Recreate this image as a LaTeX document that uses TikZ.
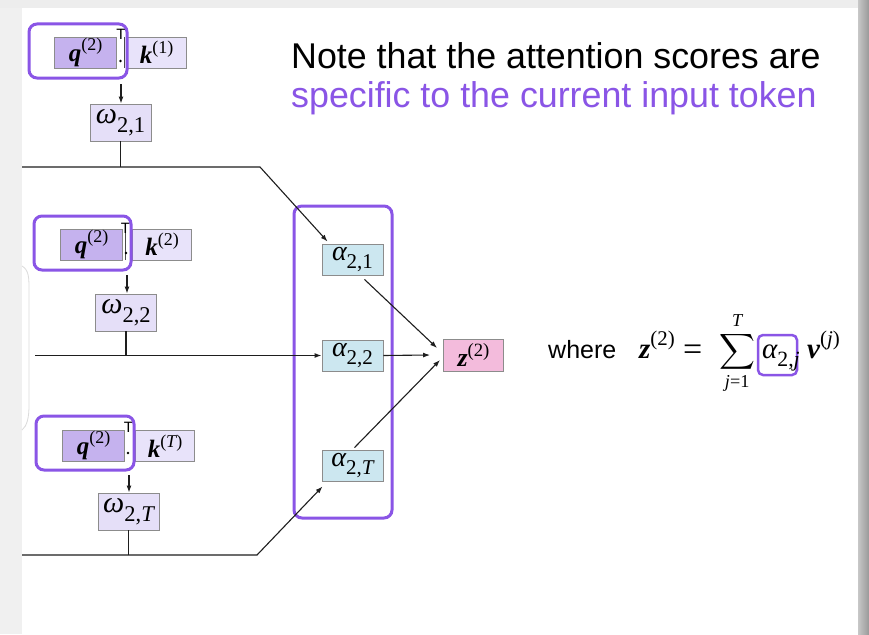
\RequirePackage{fix-cm}
\documentclass[tikz,border=0pt]{standalone}
\usepackage{amsmath}
\usepackage[no-math]{fontspec}
\setmainfont{Liberation Sans}
\newfontfamily\tms{Liberation Serif}
\usetikzlibrary{arrows.meta}
\definecolor{hl}{HTML}{8A55E6}
\definecolor{qfill}{HTML}{C5B2EE}
\definecolor{kfill}{HTML}{E8E3FA}
\definecolor{wfill}{HTML}{E5DFF8}
\definecolor{afill}{HTML}{CCE7F0}
\definecolor{zfill}{HTML}{F3BBDC}
\definecolor{bord}{HTML}{8C8C8C}
\definecolor{ln}{HTML}{1E1E1E}
\newcommand{\bvec}[1]{{\tms\bfseries\itshape #1}}
\newcommand{\ivar}[1]{{\tms\itshape #1}}
\newcommand{\supx}[1]{\raisebox{0.42em}{\scalebox{0.72}{\tms #1}}}
\newcommand{\subx}[1]{\raisebox{-0.28em}{\scalebox{0.75}{\tms #1}}}
\tikzset{
  box/.style={draw=bord, line width=0.9pt, inner sep=0pt, anchor=center},
  qbox/.style={box, fill=qfill, minimum width=62pt, minimum height=31pt, font=\fontsize{25}{27}\selectfont},
  kbox/.style={box, fill=kfill, minimum width=59pt, minimum height=31pt, font=\fontsize{25}{27}\selectfont},
  wbox/.style={box, fill=wfill, minimum width=61pt, minimum height=37pt, font=\fontsize{30}{32}\selectfont},
  abox/.style={box, fill=afill, minimum width=61pt, minimum height=31pt, font=\fontsize{28}{30}\selectfont},
  zbox/.style={box, fill=zfill, minimum width=60pt, minimum height=32pt, font=\fontsize{26}{28}\selectfont},
  hlbox/.style={draw=hl, line width=3pt, rounded corners=8pt},
  conn/.style={draw=ln, line width=1.1pt},
  arr/.style={conn, -{Latex[length=7pt,width=5pt]}},
  tsym/.style={inner sep=0pt, font=\fontsize{15}{15}\selectfont},
  formula/.style={inner sep=0pt, anchor=base west, font=\fontsize{29}{31}\selectfont},
}
\begin{document}
\begin{tikzpicture}[x=1pt,y=-1pt]
\useasboundingbox (0,0) rectangle (869,634);
% background
\fill[white] (0,0) rectangle (869,634);
\fill[black!6] (0,0) rectangle (22,634);
\fill[black!7] (0,0) rectangle (869,8);
\shade[left color=black!22, right color=black!40] (858,0) rectangle (869,634);
\draw[black!14, line width=0.8pt] (22,266) .. controls (29,270) and (29,278) .. (29,290) -- (29,405) .. controls (29,418) and (27,426) .. (22,430);

% title
\node[anchor=base west, inner sep=0pt, font=\fontsize{35.8}{40}\selectfont] (title1) at (291,68) {Note that the attention scores are};
\node[anchor=base west, inner sep=0pt, font=\fontsize{35.8}{40}\selectfont, text=hl] (title2) at (291,107) {specific to the current input token};

% row 1
\node[qbox] (q1) at (85.5,52.5) {\bvec{q}\supx{(2)}};
\node[kbox] (k1) at (156.5,52.5) {\bvec{k}\supx{(1)}};
\node[wbox] (w1) at (120.5,122.5) {\ivar{ω}\subx{2,1}};
\draw[ln!80, line width=0.8pt] (124,37) -- (124,68);
\node[tsym] (T1) at (121,34) {T};
\fill (120.5,61) circle (1.4pt);
\draw[hlbox] (29,24) rectangle (127,78);

% row 2
\node[qbox] (q2) at (91.5,244.5) {\bvec{q}\supx{(2)}};
\node[kbox] (k2) at (162,244.5) {\bvec{k}\supx{(2)}};
\node[wbox] (w2) at (126,312.5) {\ivar{ω}\subx{2,2}};
\draw[ln!80, line width=0.8pt] (125,229) -- (125,260);
\node[tsym] (T2) at (125.5,228) {T};
\fill (126,253) circle (1.4pt);
\draw[hlbox] (34,216) rectangle (131,270);

% row 3
\node[qbox] (q3) at (93.5,445.5) {\bvec{q}\supx{(2)}};
\node[kbox] (k3) at (165,446) {\bvec{k}\supx{(\itshape T\upshape)}};
\node[wbox] (w3) at (128.5,511.5) {\ivar{ω}\subx{2,\itshape T}};
\node[tsym] (T3) at (128.5,427) {T};
\fill (128,453) circle (1.4pt);
\draw[hlbox] (36,416) rectangle (134,470);

% alphas and z
\node[abox] (a1) at (352.5,259.5) {\ivar{α}\subx{2,1}};
\node[abox] (a2) at (352.5,355.5) {\ivar{α}\subx{2,2}};
\node[abox] (a3) at (352.5,465.5) {\ivar{α}\subx{2,\itshape T}};
\node[zbox] (z) at (473.5,355) {\bvec{z}\supx{(2)}};
\draw[hlbox] (294,206) rectangle (392,518);

% down arrows
\coordinate (h1) at (121,84);
\coordinate (h2) at (127,275);
\coordinate (h3) at (129,475);
\draw[arr] (h1) -- (h1 |- w1.north);
\draw[arr] (h2) -- (h2 |- w2.north);
\draw[arr] (h3) -- (h3 |- w3.north);

% main lines
\coordinate (s1) at (22,167);
\coordinate (b1) at (260,167);
\coordinate (s2) at (35,355.5);
\coordinate (s3) at (22,555);
\coordinate (b3) at (257,555);
\draw[conn] (w1.south) -- (w1.south |- s1);
\draw[conn] (w2.south) -- (w2.south |- s2);
\draw[conn] (w3.south) -- (w3.south |- s3);
\draw[arr] (s1) -- (b1) -- ([xshift=6pt,yshift=2pt]a1.north west);
\draw[arr] (s2) -- (a2.west);
\draw[arr] (s3) -- (b3) -- ([xshift=1pt,yshift=-5pt]a3.south west);

% to z
\draw[arr] ([xshift=12pt,yshift=-4pt]a1.south) -- ([xshift=-6pt,yshift=7pt]z.west);
\draw[arr] (a2.east) -- ([xshift=-13pt]z.west);
\draw[arr] ([xshift=2pt,yshift=2pt]a3.north) -- ([xshift=-3pt,yshift=-5pt]z.west);

% formula
\draw[hl, line width=2.5pt, rounded corners=5pt] (758,335) rectangle (797,375);
\node[anchor=base west, inner sep=0pt, font=\fontsize{25}{27}\selectfont] (where) at (548,358) {where};
\node[formula] (zeq) at (639,358) {\bvec{z}\supx{(2)}};
\node[formula, font=\fontsize{34}{36}\selectfont] (eqs) at (683,360) {\tms =};
\node[formula, font=\fontsize{26}{28}\selectfont] (sum) at (719,358) {$\displaystyle\sum_{\text{\tms\itshape j\upshape =1}}^{\text{\tms\itshape T}}$};
\node[formula] (alph) at (762,358) {\ivar{α}\subx{2,\itshape j}};
\node[formula] (vj) at (807,358) {\bvec{v}\supx{(\itshape j\upshape)}};
\end{tikzpicture}
\end{document}
